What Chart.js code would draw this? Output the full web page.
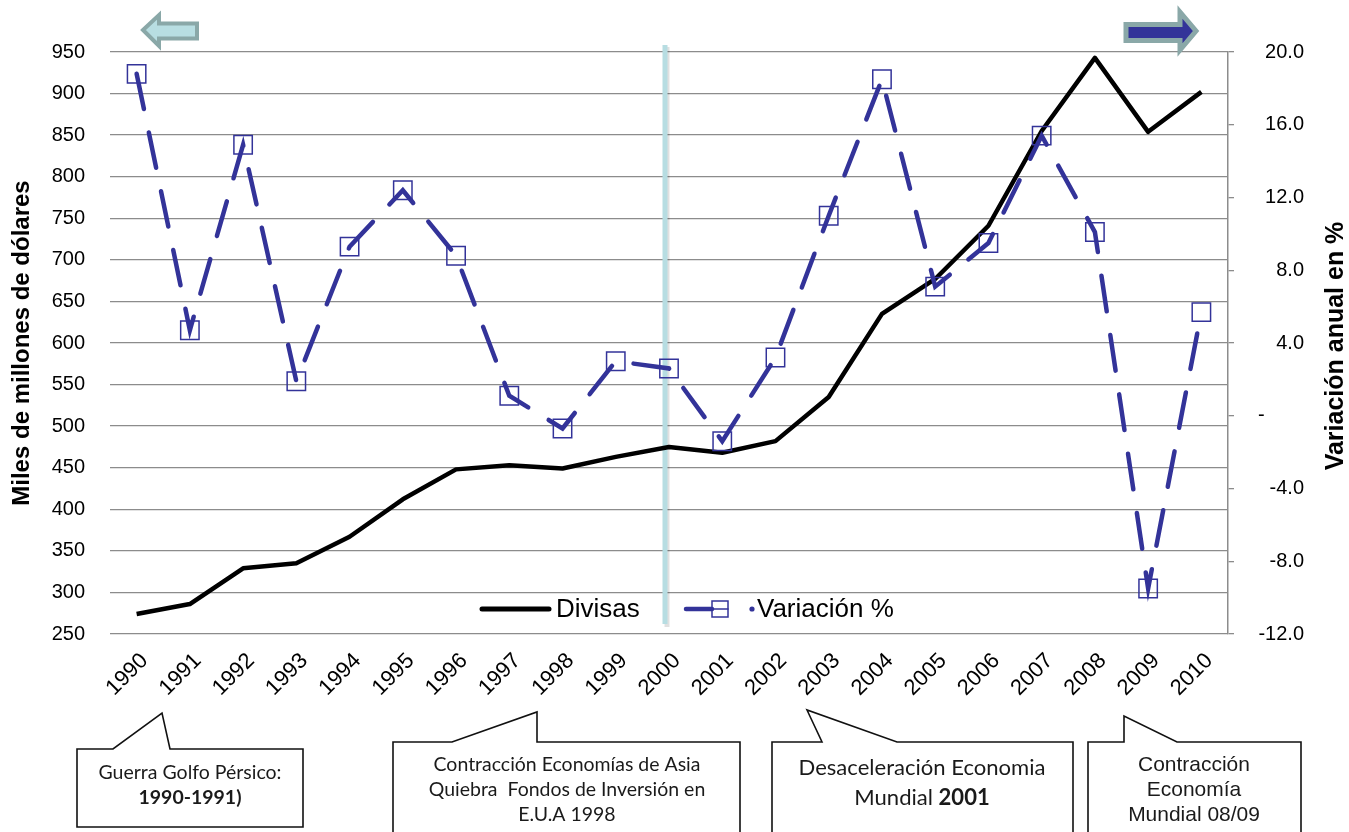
<!DOCTYPE html>
<html><head><meta charset="utf-8">
<script src="https://cdn.jsdelivr.net/npm/chart.js@4.4.1/dist/chart.umd.min.js"></script>
<style>html,body{margin:0;padding:0;background:#fff;}#wrap{width:1349px;height:832px;position:relative;}</style>
</head><body><div id="wrap"><canvas id="c" width="1349" height="832"></canvas></div>
<script>
const years = ['1990','1991','1992','1993','1994','1995','1996','1997','1998','1999','2000','2001','2002','2003','2004','2005','2006','2007','2008','2009','2010'];
const divisas = [274,286,329,335,367,412,448,453,449,463,475,468,482,535,635,677,741,855,943,854,902];
const variacion = [18.8,4.7,14.9,1.9,9.3,12.4,8.8,1.1,-0.7,3.0,2.6,-1.4,3.2,11.0,18.5,7.1,9.5,15.4,10.1,-9.5,5.7];
const leftAxis = {min:250, max:950, step:50};
const rightAxis = {min:-12, max:20, step:4};
const seriesNames = ['Divisas','Variación %'];
const axisTitles = ['Miles de millones de dólares','Variación anual en %'];
const callouts = [
  {lines:[[['Guerra Golfo Pérsico:','n']],[['1990-1991)','b']]]},
  {lines:[[['Contracción Economías de Asia','n']],[['Quiebra  Fondos de Inversión en','n']],[['E.U.A 1998','n']]]},
  {lines:[[['Desaceleración Economia','n']],[['Mundial ','n'],['2001','b']]]},
  {lines:[[['Contracción','n']],[['Economía','n']],[['Mundial 08/09','n']]]}
];

const BLUE = '#333399';
const GRID = '#8c8c8c';
const SANS = '"Liberation Sans", Arial, sans-serif';
const CAL = 'Lato, "Open Sans", sans-serif';
const rightLabel = v => v === 0 ? '-' : v.toFixed(1);

const deco = {
  id:'deco',
  beforeDatasetsDraw(chart){
    const ctx = chart.ctx, x = chart.scales.x, ca = chart.chartArea;
    const px = x.getPixelForTick(10) - 4;
    ctx.save();
    ctx.lineCap = 'butt';
    ctx.strokeStyle = 'rgba(0,0,0,0.12)'; ctx.lineWidth = 5;
    ctx.beginPath(); ctx.moveTo(px+2, ca.top-5); ctx.lineTo(px+2, ca.bottom-7); ctx.stroke();
    ctx.strokeStyle = '#b7dde2'; ctx.lineWidth = 5;
    ctx.beginPath(); ctx.moveTo(px, ca.top-7); ctx.lineTo(px, ca.bottom-10); ctx.stroke();
    ctx.restore();
  },
  afterDatasetsDraw(chart){
    const ctx = chart.ctx, ca = chart.chartArea;
    const ly = ca.bottom - 25;
    ctx.save();
    ctx.lineCap = 'round';
    ctx.strokeStyle = chart.data.datasets[0].borderColor; ctx.lineWidth = 5;
    ctx.beginPath(); ctx.moveTo(482, ly); ctx.lineTo(549, ly); ctx.stroke();
    ctx.fillStyle = '#000'; ctx.font = '26px ' + SANS; ctx.textBaseline = 'middle'; ctx.textAlign = 'left';
    ctx.fillText(seriesNames[0], 556, ly+1);
    ctx.strokeStyle = BLUE; ctx.lineWidth = 4.5;
    ctx.beginPath(); ctx.moveTo(686, ly); ctx.lineTo(712, ly); ctx.stroke();
    ctx.lineWidth = 1.5; ctx.strokeRect(712, ly-8, 16, 16);
    ctx.beginPath(); ctx.moveTo(712, ly); ctx.lineTo(728, ly); ctx.stroke();
    ctx.fillStyle = BLUE; ctx.beginPath(); ctx.arc(752, ly, 2.6, 0, Math.PI*2); ctx.fill();
    ctx.fillStyle = '#000';
    ctx.fillText(seriesNames[1], 757, ly+1);
    ctx.restore();
  },
  afterDraw(chart){
    const ctx = chart.ctx;
    // right tick labels
    const s = chart.scales.y1;
    ctx.save();
    ctx.font = '20px ' + SANS; ctx.fillStyle = '#000'; ctx.textBaseline = 'middle';
    s.ticks.forEach(t=>{
      const y = s.getPixelForValue(t.value);
      if (t.value === 0) { ctx.textAlign = 'left'; ctx.fillText(rightLabel(t.value), s.left + 30, y); }
      else { ctx.textAlign = 'right'; ctx.fillText(rightLabel(t.value), s.left + 76, y); }
    });
    ctx.restore();
    ctx.save();
    ctx.translate(1336, 346); ctx.rotate(-Math.PI/2);
    ctx.font = 'bold 25px ' + SANS; ctx.fillStyle = '#000'; ctx.textAlign = 'center'; ctx.textBaseline = 'middle';
    ctx.fillText(axisTitles[1], 0, 0);
    ctx.restore();
    // arrows
    ctx.save();
    ctx.lineJoin = 'miter';
    ctx.fillStyle = '#b8dee2'; ctx.strokeStyle = '#8aa8a8'; ctx.lineWidth = 4;
    ctx.beginPath();
    ctx.moveTo(143,30); ctx.lineTo(159,15); ctx.lineTo(159,23.5); ctx.lineTo(197,23.5); ctx.lineTo(197,38.5); ctx.lineTo(159,38.5); ctx.lineTo(159,46); ctx.closePath();
    ctx.fill(); ctx.stroke();
    ctx.fillStyle = BLUE; ctx.lineWidth = 5;
    ctx.beginPath();
    ctx.moveTo(1126,24.5); ctx.lineTo(1180,24.5); ctx.lineTo(1180,12); ctx.lineTo(1196,31); ctx.lineTo(1180,50); ctx.lineTo(1180,40.5); ctx.lineTo(1126,40.5); ctx.closePath();
    ctx.fill(); ctx.stroke();
    ctx.restore();
    // callouts
    const boxes = [
      {pts:[[77,749],[113,749],[162,713],[170,749],[303,749],[303,827],[77,827]], cx:190, ys:[773,798], font:CAL, fitW:183},
      {pts:[[393,742],[452,742],[537,712],[537,742],[740,742],[740,845],[393,845]], cx:567, ys:[765,790,815], font:CAL, fitW:267},
      {pts:[[772,742],[822,742],[807,710],[897,742],[1073,742],[1073,845],[772,845]], cx:922, ys:[768,798], font:CAL, fitW:247},
      {pts:[[1088,742],[1124,742],[1124,716],[1177,742],[1301,742],[1301,845],[1088,845]], cx:1194, ys:[765,790,815], font:SANS, fitW:112}
    ];
    ctx.save();
    boxes.forEach((b,i)=>{
      ctx.beginPath();
      b.pts.forEach((p,j)=> j? ctx.lineTo(p[0],p[1]) : ctx.moveTo(p[0],p[1]));
      ctx.closePath();
      ctx.fillStyle = '#fff'; ctx.fill();
      ctx.strokeStyle = '#111'; ctx.lineWidth = 1.6; ctx.stroke();
      const first = callouts[i].lines[0];
      ctx.font = (first[0][1]==='b'?'bold ':'') + '20px ' + b.font;
      const w20 = ctx.measureText(first.map(s=>s[0]).join('')).width;
      const size = 20 * b.fitW / w20;
      ctx.fillStyle = '#1a1a1a'; ctx.textBaseline = 'middle'; ctx.textAlign = 'left';
      callouts[i].lines.forEach((segs, li)=>{
        let total = 0;
        segs.forEach(s=>{ ctx.font = (s[1]==='b'?'bold ':'') + size + 'px ' + b.font; total += ctx.measureText(s[0]).width; });
        let xx = b.cx - total/2;
        segs.forEach(s=>{ ctx.font = (s[1]==='b'?'bold ':'') + size + 'px ' + b.font; ctx.fillText(s[0], xx, b.ys[li]); xx += ctx.measureText(s[0]).width; });
      });
    });
    ctx.restore();
  }
};

new Chart(document.getElementById('c'), {
  type:'line',
  data:{
    labels: years,
    datasets:[
      {label:seriesNames[0], data:divisas, yAxisID:'y', borderColor:'#000', borderWidth:4.5, pointRadius:0, tension:0, order:2, borderJoinStyle:'round'},
      {label:seriesNames[1], data:variacion, yAxisID:'y1', borderColor:BLUE, borderWidth:4.5, borderDash:[36,24], borderCapStyle:'round',
       pointStyle:'rect', pointRadius:13, pointBorderWidth:1.5, pointBorderColor:BLUE, pointBackgroundColor:'rgba(0,0,0,0)', tension:0, order:1}
    ]
  },
  options:{
    responsive:false, devicePixelRatio:1, animation:false,
    layout:{padding:{top:52, left:0, right:0, bottom:0}},
    plugins:{legend:{display:false}, tooltip:{enabled:false}},
    scales:{
      x:{
        offset:true,
        grid:{display:false, drawTicks:false},
        border:{display:false},
        ticks:{autoSkip:false, maxRotation:45, minRotation:45, color:'#000', font:{family:SANS, size:22}, padding:14, labelOffset:8},
        afterFit(s){ s.height = 198; }
      },
      y:{
        position:'left', min:leftAxis.min, max:leftAxis.max,
        grid:{color:GRID, lineWidth:1.3, drawTicks:false},
        border:{display:false},
        ticks:{stepSize:leftAxis.step, color:'#000', font:{family:SANS, size:20}, padding:25},
        title:{display:true, text:axisTitles[0], color:'#000', font:{family:SANS, size:24, weight:'bold', lineHeight:1}, padding:{top:10, bottom:0}},
        afterFit(s){ s.width = 110; }
      },
      y1:{
        position:'right', min:rightAxis.min, max:rightAxis.max,
        grid:{drawOnChartArea:false, color:GRID, lineWidth:1.3, tickLength:6},
        border:{display:true, color:GRID, width:1.5},
        ticks:{stepSize:rightAxis.step, color:'rgba(0,0,0,0)', font:{family:SANS, size:20}, padding:24, callback:rightLabel},
        afterFit(s){ s.width = 121; }
      }
    }
  },
  plugins:[deco]
});
</script></body></html>
